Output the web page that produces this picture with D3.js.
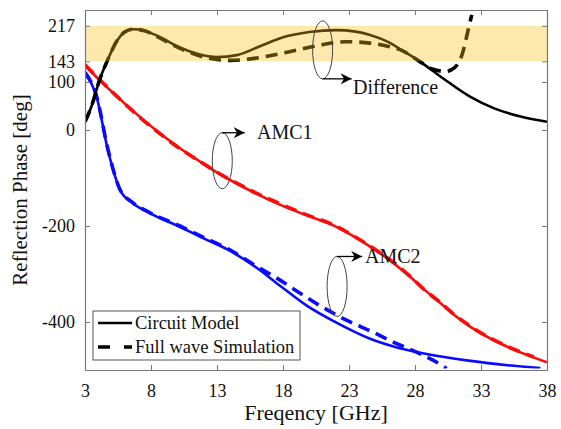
<!DOCTYPE html>
<html>
<head>
<meta charset="utf-8">
<script src="https://cdn.jsdelivr.net/npm/d3@7"></script>
<style>
  body { margin: 0; background: white; }
  text { font-family: "Liberation Serif", "Times New Roman", serif; fill: #111; }
</style>
</head>
<body>
<svg width="561" height="429"></svg>
<script>
// x ticks and y ticks
var xTicks = [3, 8, 13, 18, 23, 28, 33, 38];
var yTicks = [-400, -200, 0, 100, 143, 217];
var band = [143, 217];

// Difference (circuit model / full wave)
var diffCircF = [3, 3.5, 4.1, 4.67, 5.4, 6.0, 6.6, 7.5, 8.5, 10.2, 11.5, 13, 14.5, 16.3, 18, 20, 22, 23.5, 24.6, 26, 27.2, 28.4, 30, 32.2, 34, 36, 38];
var diffCircP = [17, 50, 104, 143, 185, 204, 210, 207, 196, 172, 159, 152, 156, 175, 193, 204, 208, 205, 198, 183, 163, 142, 110, 69, 45, 28, 17];
var diffFullF = [3, 3.5, 4.1, 4.67, 5.4, 6.0, 6.6, 7.5, 8.5, 10.2, 12, 14, 16, 18.5, 20.5, 22.8, 24.6, 26, 26.9, 28.4, 29.3, 30.3, 31.0, 31.6, 32.0, 32.3];
var diffFullP = [17, 50, 104, 143, 185, 204, 210, 207, 194, 170, 152, 145, 150, 163, 175, 184, 181, 174, 167, 142, 127, 122, 130, 160, 205, 240];

// AMC1
var amc1CircF = [3, 4.1, 5.5, 7, 8.5, 10.2, 11.5, 13.2, 15.5, 17.8, 20, 21.6, 23, 24.6, 26.5, 27.8, 28.6, 29.9, 31, 32.2, 34.7, 38];
var amc1CircP = [134, 104, 68, 31, -3, -38, -62, -92, -126, -156, -180, -196, -216, -243, -280, -310, -330, -360, -386, -410, -448, -484];
var amc1FullF = [3, 4.1, 5.5, 7, 8.5, 10.2, 11.5, 13.2, 15.5, 17.8, 20, 21.6, 23, 24.6, 26.5, 27.8, 28.6, 29.9, 31, 32.2, 34.7, 37];
var amc1FullP = [136, 105, 68, 30, -4, -39, -62, -91, -125, -154, -179, -195, -215, -242, -279, -309, -330, -359, -385, -409, -447, -473];

// AMC2
var amc2CircF = [3, 3.9, 4.7, 5.1, 5.65, 6.6, 7.9, 10.2, 11.7, 14, 16, 17.8, 19.8, 22.3, 24.6, 26.5, 28.4, 32.2, 35, 37.5];
var amc2CircP = [117, 67, -38, -80, -125, -152, -173, -202, -222, -252, -287, -325, -366, -405, -435, -452, -464, -481, -490, -496];
var amc2FullF = [3, 3.9, 4.7, 5.1, 5.65, 6.6, 7.9, 10.2, 11.7, 14, 15.7, 17.5, 19.3, 20.8, 22.8, 24.8, 26.3, 28.2, 29.9, 30.4];
var amc2FullP = [120, 68, -36, -79, -124, -151, -172, -200, -220, -250, -279, -308, -340, -366, -396, -421, -441, -464, -488, -497];

var svg = d3.select("svg");
var x = d3.scaleLinear().domain([3, 38]).range([85, 547]);
var y = d3.scaleLinear().domain([-500, 250]).range([370, 10]);

svg.append("clipPath").attr("id", "clip")
  .append("rect").attr("x", 85).attr("y", 10.5).attr("width", 462).attr("height", 358);

function pts(fs, ps) { return fs.map(function(f, i) { return [f, ps[i]]; }); }
var line = d3.line().x(function(d) { return x(d[0]); }).y(function(d) { return y(d[1]); })
  .curve(d3.curveMonotoneX);

var g = svg.append("g").attr("clip-path", "url(#clip)");
function draw(fs, ps, color, dashed) {
  g.append("path").datum(pts(fs, ps))
    .attr("d", line)
    .attr("fill", "none")
    .attr("stroke", color)
    .attr("stroke-width", dashed ? 3.6 : 2.6)
    .attr("stroke-dasharray", dashed ? "12,7" : null);
}
draw(amc2FullF, amc2FullP, "#0a0aff", true);
draw(amc2CircF, amc2CircP, "#0a0aff", false);
draw(amc1FullF, amc1FullP, "#ff0a0a", true);
draw(amc1CircF, amc1CircP, "#ff0a0a", false);
draw(diffFullF, diffFullP, "#000", true);
draw(diffCircF, diffCircP, "#000", false);

// band over curves, transparent
svg.append("rect")
  .attr("x", x(3)).attr("width", x(38) - x(3))
  .attr("y", y(band[1])).attr("height", y(band[0]) - y(band[1]))
  .attr("fill", "rgb(250,190,20)").attr("fill-opacity", 0.35);

// axes (box with inward ticks)
var axCol = "#777";
var fmt = function(d) { return String(d); };
var xb = svg.append("g").attr("transform", "translate(0," + y(-500) + ")")
  .call(d3.axisBottom(x).tickValues(xTicks).tickFormat(fmt).tickSizeInner(-5).tickSizeOuter(0).tickPadding(14));
var xt = svg.append("g").attr("transform", "translate(0," + y(250) + ")")
  .call(d3.axisTop(x).tickValues(xTicks).tickSizeInner(-5).tickSizeOuter(0).tickFormat(""));
var yl = svg.append("g").attr("transform", "translate(" + x(3) + ",0)")
  .call(d3.axisLeft(y).tickValues(yTicks).tickFormat(fmt).tickSizeInner(-5).tickSizeOuter(0).tickPadding(10));
var yr = svg.append("g").attr("transform", "translate(" + x(38) + ",0)")
  .call(d3.axisRight(y).tickValues(yTicks).tickSizeInner(-5).tickSizeOuter(0).tickFormat(""));
[xb, xt, yl, yr].forEach(function(a) {
  a.attr("font-family", "Liberation Serif").attr("font-size", 18);
  a.select(".domain").attr("stroke", axCol).attr("stroke-width", 1.2);
  a.selectAll(".tick line").attr("stroke", axCol);
  a.selectAll(".tick text").attr("fill", "#111");
});

svg.append("text").attr("x", 316).attr("y", 420).attr("text-anchor", "middle")
  .style("font-size", "22px").text("Freqency [GHz]");
svg.append("text").attr("transform", "translate(27,190)rotate(-90)").attr("text-anchor", "middle")
  .style("font-size", "21px").text("Reflection Phase [deg]");

// annotations
svg.append("defs").append("marker").attr("id", "arr")
  .attr("viewBox", "0 0 10 10").attr("refX", 10).attr("refY", 5)
  .attr("markerWidth", 11).attr("markerHeight", 11).attr("markerUnits", "userSpaceOnUse")
  .attr("orient", "auto")
  .append("path").attr("d", "M0,0 L10,5 L0,10 L3,5 Z").attr("fill", "#000");

var notes = [
  { label: "Difference", f: 21.0, p: 167, ry: 29, below: true, ax: 23.2, tx: 353, ty: 94 },
  { label: "AMC1", f: 13.4, p: -64, ry: 28, below: false, ax: 15.1, tx: 257, ty: 139 },
  { label: "AMC2", f: 22.1, p: -326, ry: 30, below: false, ax: 24.0, tx: 365, ty: 263 }
];
notes.forEach(function(n) {
  svg.append("ellipse").attr("cx", x(n.f)).attr("cy", y(n.p)).attr("rx", 10).attr("ry", n.ry)
    .attr("fill", "none").attr("stroke", "#444").attr("stroke-width", 1);
  var yy = n.below ? y(n.p) + n.ry : y(n.p) - n.ry;
  svg.append("line").attr("x1", x(n.f)).attr("y1", yy).attr("x2", x(n.ax)).attr("y2", yy)
    .attr("stroke", "#000").attr("stroke-width", 1.3).attr("marker-end", "url(#arr)");
  svg.append("text").attr("x", n.tx).attr("y", n.ty).style("font-size", "20px").text(n.label);
});

// legend
var lg = svg.append("g");
lg.append("rect").attr("x", 93).attr("y", 311).attr("width", 207).attr("height", 49)
  .attr("fill", "white").attr("stroke", "#555").attr("stroke-width", 1);
var legItems = ["Circuit Model", "Full wave Simulation"];
legItems.forEach(function(t, i) {
  var yy = 323 + i * 24;
  lg.append("line").attr("x1", 98).attr("x2", 132).attr("y1", yy).attr("y2", yy)
    .attr("stroke", "#000").attr("stroke-width", i ? 3.6 : 2.6)
    .attr("stroke-dasharray", i ? "12,14" : null);
  lg.append("text").attr("x", 135).attr("y", yy + 6).style("font-size", "18.5px").text(t);
});
</script>
</body>
</html>
